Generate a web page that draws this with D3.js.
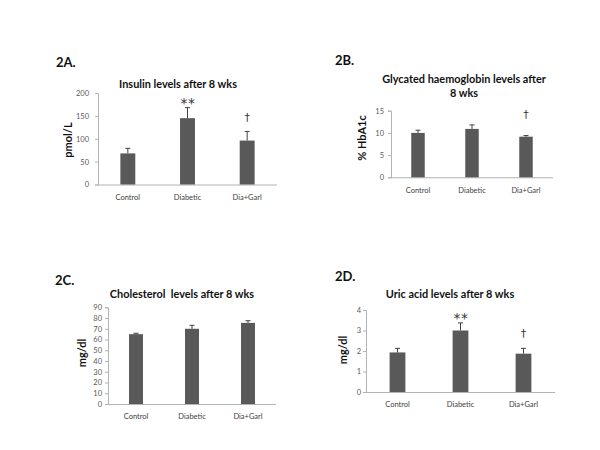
<!DOCTYPE html>
<html>
<head>
<meta charset="utf-8">
<script src="https://cdn.jsdelivr.net/npm/d3@7"></script>
<style>
  html, body { margin: 0; padding: 0; background: #fff; }
  svg { display: block; }
  text { font-family: Lato, "Open Sans", sans-serif; }
</style>
</head>
<body>
<svg id="chart" width="600" height="450"></svg>
<script>
// ---- data ----
const categories = ["Control", "Diabetic", "Dia+Garl"];

const insulinMeans = [68, 145, 96];
const insulinErr   = [11, 23, 20];
const insulinMarks = ["", "**", "†"];
const insulinTicks = [0, 50, 100, 150, 200];

const hba1cMeans = [10.0, 10.9, 9.15];
const hba1cErr   = [0.6, 0.9, 0.25];
const hba1cMarks = ["", "", "†"];
const hba1cTicks = [0, 5, 10, 15];

const cholMeans = [65, 70, 75.5];
const cholErr   = [0.8, 3.2, 2.0];
const cholMarks = ["", "", ""];
const cholTicks = [0, 10, 20, 30, 40, 50, 60, 70, 80, 90];

const uricMeans = [1.93, 3.0, 1.87];
const uricErr   = [0.2, 0.37, 0.26];
const uricMarks = ["", "**", "†"];
const uricTicks = [0, 1, 2, 3, 4];

const panelLabels = ["2A.", "2B.", "2C.", "2D."];
const titles = [
  ["Insulin levels after 8 wks"],
  ["Glycated haemoglobin levels after", "8 wks"],
  ["Cholesterol  levels after 8 wks"],
  ["Uric acid levels after 8 wks"]
];
const yLabels = ["pmol/L", "% HbA1c", "mg/dl", "mg/dl"];

// ---- layout ----
const panels = [
  { means: insulinMeans, err: insulinErr, marks: insulinMarks, ticks: insulinTicks,
    x0: 98, x1: 277, y0: 184.5, y1: 93, tickPad: 9,
    lab: [56, 67], title: [178, 88], yl: [72, 140], markOff: {"**": 0, "†": 10} },
  { means: hba1cMeans, err: hba1cErr, marks: hba1cMarks, ticks: hba1cTicks,
    x0: 391, x1: 553, y0: 177.3, y1: 110.7, tickPad: 7,
    lab: [335, 65], title: [464, 83], yl: [366, 138], markOff: {"**": 0, "†": 18} },
  { means: cholMeans, err: cholErr, marks: cholMarks, ticks: cholTicks,
    x0: 108, x1: 276, y0: 404, y1: 307.3, tickPad: 6,
    lab: [55, 285], title: [182, 298], yl: [86, 353], markOff: {"**": 0, "†": 10} },
  { means: uricMeans, err: uricErr, marks: uricMarks, ticks: uricTicks,
    x0: 366, x1: 555, y0: 392, y1: 310, tickPad: 5,
    lab: [335, 281], title: [450, 298], yl: [347, 350], markOff: {"**": 0, "†": 11} }
];

const svg = d3.select("#chart");
const barColor = "#595959";
const axisColor = "#b3b3b3";
const textGray = "#595959";

panels.forEach((p, i) => {
  const g = svg.append("g");
  const yMax = p.ticks[p.ticks.length - 1];
  const y = d3.scaleLinear().domain([0, yMax]).range([p.y0, p.y1]);
  const x = d3.scaleBand().domain(categories).range([p.x0, p.x1])
    .paddingInner(0.75).paddingOuter(0.375);
  const bw = x.bandwidth();

  // y axis
  const yAxis = d3.axisLeft(y).tickValues(p.ticks).tickFormat(d3.format("d"))
    .tickSize(3).tickPadding(p.tickPad - 3);
  const ya = g.append("g").attr("transform", `translate(${p.x0},0)`).call(yAxis);
  ya.select(".domain").attr("stroke", axisColor);
  ya.selectAll(".tick line").attr("stroke", axisColor);
  ya.selectAll(".tick text").attr("fill", textGray)
    .style("font-size", "7.5px").style("font-family", "Lato, sans-serif");

  // x axis
  const xAxis = d3.axisBottom(x).tickSize(0).tickPadding(10);
  const xa = g.append("g").attr("transform", `translate(0,${p.y0})`).call(xAxis);
  xa.select(".domain").attr("stroke", axisColor).attr("d", `M${p.x0},0.5H${p.x1}`);
  xa.selectAll(".tick text").attr("fill", "#404040")
    .style("font-size", "7.5px").style("font-family", "Lato, sans-serif");

  const data = categories.map((c, k) => ({ c, v: p.means[k], e: p.err[k], m: p.marks[k] }));

  // bars
  g.selectAll("rect.bar").data(data).enter().append("rect")
    .attr("class", "bar")
    .attr("x", d => x(d.c))
    .attr("width", bw)
    .attr("y", d => y(d.v))
    .attr("height", d => y(0) - y(d.v))
    .attr("fill", barColor);

  // error bars (upper only)
  const cx = d => x(d.c) + bw / 2;
  g.selectAll("line.err").data(data).enter().append("line")
    .attr("x1", cx).attr("x2", cx)
    .attr("y1", d => y(d.v)).attr("y2", d => y(d.v + d.e))
    .attr("stroke", "#404040").attr("stroke-width", 1);
  g.selectAll("line.cap").data(data).enter().append("line")
    .attr("x1", d => cx(d) - 2.5).attr("x2", d => cx(d) + 2.5)
    .attr("y1", d => y(d.v + d.e)).attr("y2", d => y(d.v + d.e))
    .attr("stroke", "#404040").attr("stroke-width", 1);

  // significance marks
  g.selectAll("text.mark").data(data.filter(d => d.m)).enter().append("text")
    .attr("x", d => cx(d) + (d.m === "**" ? 0.5 : 0))
    .attr("y", d => y(d.v + d.e) - p.markOff[d.m])
    .attr("text-anchor", "middle")
    .attr("fill", "#333333")
    .style("opacity", 0.99)
    .style("font-family", "'DejaVu Sans', sans-serif")
    .style("font-size", d => d.m === "**" ? "14px" : "11px")
    .style("letter-spacing", d => d.m === "**" ? "0.5px" : "0px")
    .text(d => d.m);

  // panel label
  g.append("text").attr("x", p.lab[0]).attr("y", p.lab[1])
    .style("font-size", "13px").style("font-weight", "bold").attr("fill", "#111")
    .text(panelLabels[i]);

  // title
  titles[i].forEach((t, k) => {
    g.append("text").attr("x", p.title[0]).attr("y", p.title[1] + k * 14)
      .attr("text-anchor", "middle")
      .style("font-size", "10.9px").style("font-weight", "bold").attr("fill", "#111")
      .style("white-space", "pre")
      .text(t);
  });

  // y label
  g.append("text")
    .attr("transform", `translate(${p.yl[0]},${p.yl[1]}) rotate(-90)`)
    .attr("text-anchor", "middle")
    .style("font-size", "11px").style("font-weight", "bold").attr("fill", "#111")
    .text(yLabels[i]);
});
</script>
</body>
</html>
